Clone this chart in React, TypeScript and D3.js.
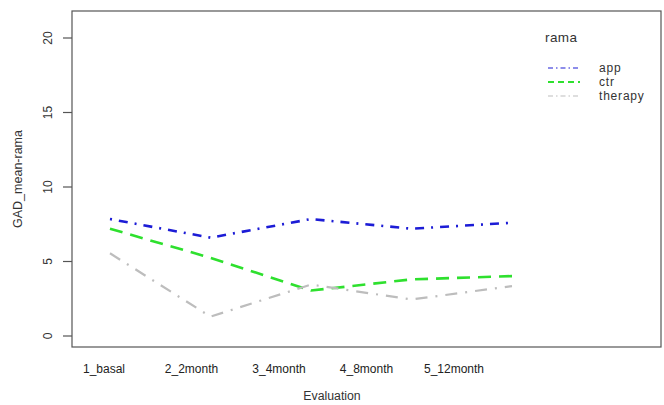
import React from "react";
import * as d3 from "d3";

const categories = ["1_basal", "2_2month", "3_4month", "4_8month", "5_12month"];
const appValues = [7.85, 6.6, 7.85, 7.2, 7.6];
const ctrValues = [7.2, 5.25, 3.05, 3.8, 4.02];
const therapyValues = [5.55, 1.3, 3.45, 2.45, 3.35];
const yTicks = [0, 5, 10, 15, 20];
const legendTitle = "rama";

const series = [
  { name: "app", values: appValues, color: "#1c1cd6", width: 2.6, dash: "2,7,9,7" },
  { name: "ctr", values: ctrValues, color: "#2ee02e", width: 2.6, dash: "13,8" },
  { name: "therapy", values: therapyValues, color: "#bdbdbd", width: 2.2, dash: "12,8,2,8" },
];

const W = 664;
const H = 405;
const box = { left: 72, right: 661, top: 11, bottom: 347 };
const font = "'Liberation Sans', Arial, sans-serif";
const axisColor = "#555";

export default function App() {
  const x = d3.scalePoint<string>().domain(categories).range([110, 512]);
  const labelX = d3.scalePoint<string>().domain(categories).range([104, 454]);
  const y = d3.scaleLinear().domain([0, 20]).range([336, 38]);
  const line = d3
    .line<number>()
    .x((_, i) => x(categories[i]) as number)
    .y((v) => y(v));

  return (
    <svg
      width={W}
      height={H}
      style={{ position: "absolute", left: 0, top: 0, background: "#fff" }}
      fontFamily={font}
    >
      <rect x={0} y={0} width={W} height={H} fill="#fff" />
      <rect
        x={box.left}
        y={box.top}
        width={box.right - box.left}
        height={box.bottom - box.top}
        fill="none"
        stroke={axisColor}
        strokeWidth={1.2}
      />
      {yTicks.map((t) => (
        <g key={t}>
          <line x1={63} x2={box.left} y1={y(t)} y2={y(t)} stroke={axisColor} strokeWidth={1.2} />
          <text
            transform={`translate(52,${y(t)}) rotate(-90)`}
            textAnchor="middle"
            fontSize={12}
            fill="#333"
          >
            {t}
          </text>
        </g>
      ))}
      {categories.map((c) => (
        <text key={c} x={labelX(c)} y={373} textAnchor="middle" fontSize={12} fill="#222">
          {c}
        </text>
      ))}
      <text x={332} y={400} textAnchor="middle" fontSize={12.3} fill="#333">
        Evaluation
      </text>
      <text
        transform={`translate(22,179) rotate(-90)`}
        textAnchor="middle"
        fontSize={12.5}
        fill="#333"
      >
        GAD_mean-rama
      </text>
      {series.map((s) => (
        <path
          key={s.name}
          d={line(s.values) || ""}
          fill="none"
          stroke={s.color}
          strokeWidth={s.width}
          strokeDasharray={s.dash}
          strokeLinejoin="round"
        />
      ))}
      <text x={545} y={42} fontSize={13.5} fill="#333" letterSpacing={0.4}>
        {legendTitle}
      </text>
      {series.map((s, i) => (
        <g key={s.name}>
          <line
            x1={548}
            x2={580}
            y1={68 + i * 14}
            y2={68 + i * 14}
            stroke={s.color}
            strokeWidth={s.name === "ctr" ? 2 : 1.2}
            strokeDasharray={s.name === "ctr" ? "6,4" : "5,3,1.5,3"}
          />
          <text x={599} y={72 + i * 14} fontSize={12} fill="#333" letterSpacing={0.8}>
            {s.name}
          </text>
        </g>
      ))}
    </svg>
  );
}
